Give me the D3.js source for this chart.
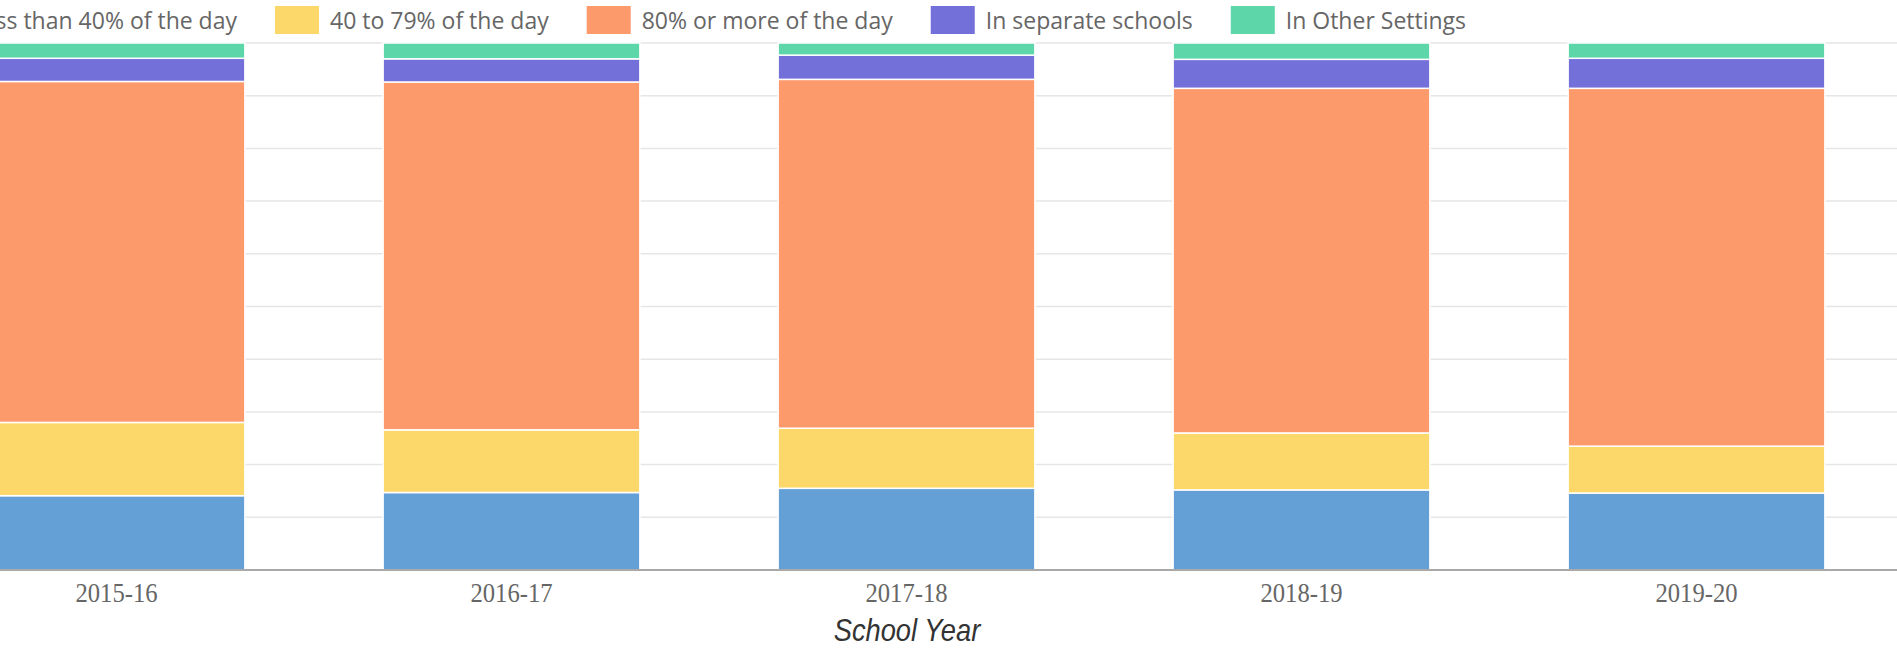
<!DOCTYPE HTML>
<html>
<head>
<meta charset="utf-8">
<script src="https://d3js.org/d3.v7.min.js"></script>
<style>
  body { margin: 0; background: #fff; overflow: hidden; }
</style>
</head>
<body onload="init()">

<svg id="svgMain" width="1897" height="650"></svg>

<script>
// school years on the x axis
var years = ["2015-16", "2016-17", "2017-18", "2018-19", "2019-20"];

// percent of students in each setting, bottom to top
var lessThan40 = [14.1, 14.7, 15.5, 15.2, 14.6];
var from40to79 = [13.9, 11.9, 11.4, 10.8, 8.9];
var over80 = [64.7, 66.0, 66.2, 65.4, 67.9];
var separateSchools = [4.4, 4.4, 4.6, 5.5, 5.7];
var otherSettings = [2.9, 3.0, 2.3, 3.1, 2.9];

var seriesNames = ["Less than 40% of the day", "40 to 79% of the day", "80% or more of the day", "In separate schools", "In Other Settings"];
var seriesColors = ["#649fd6", "#fcd86b", "#fd9a6c", "#7470da", "#5dd6a9"];
var yTicks = [0, 10, 20, 30, 40, 50, 60, 70, 80, 90, 100];

function init() {
   var svg = d3.select("#svgMain");
   var allSeries = [lessThan40, from40to79, over80, separateSchools, otherSettings];

   var rows = years.map(function (y, i) {
      var row = { year: y };
      seriesNames.forEach(function (n, k) { row[n] = allSeries[k][i]; });
      return row;
   });

   var xs = d3.scaleBand().domain(years).range([-81, 1894])
      .paddingInner(0.35).paddingOuter(0.175);
   var ys = d3.scaleLinear().domain([0, 100]).range([570, 43]);

   // gridlines
   svg.append("g").selectAll("line")
      .data(yTicks.slice(1))
      .enter().append("line")
      .attr("x1", 0).attr("x2", 1897)
      .attr("y1", function (d) { return ys(d); })
      .attr("y2", function (d) { return ys(d); })
      .attr("stroke", "#e6e6e6")
      .attr("stroke-width", 1.5);

   var stacked = d3.stack().keys(seriesNames)(rows);

   svg.append("g").selectAll("g")
      .data(stacked)
      .enter().append("g")
      .attr("fill", function (d, i) { return seriesColors[i]; })
      .selectAll("rect")
      .data(function (d) { return d; })
      .enter().append("rect")
      .attr("x", function (d) { return xs(d.data.year); })
      .attr("y", function (d) { return ys(d[1]); })
      .attr("width", xs.bandwidth())
      .attr("height", function (d) { return ys(d[0]) - ys(d[1]); })
      .attr("stroke", "#fff")
      .attr("stroke-width", 1.5);

   // x axis
   var xAxis = d3.axisBottom(xs).tickSize(0).tickPadding(0);
   var gx = svg.append("g")
      .attr("transform", "translate(0,570)")
      .call(xAxis);
   gx.select(".domain").remove();
   gx.append("line")
      .attr("x1", 0).attr("x2", 1897)
      .attr("stroke", "#a9a9a9")
      .attr("stroke-width", 2);
   gx.selectAll(".tick text")
      .attr("y", 0)
      .attr("dy", 0)
      .attr("transform", "translate(0,32) scale(0.88,1)")
      .attr("fill", "#666")
      .style("font-family", "'Liberation Serif', 'Times New Roman', serif")
      .style("font-size", "28px");

   svg.append("text")
      .attr("transform", "translate(907,641) scale(0.88,1)")
      .attr("text-anchor", "middle")
      .attr("fill", "#333")
      .style("font-family", "'Liberation Sans', Arial, sans-serif")
      .style("font-style", "italic")
      .style("font-size", "31px")
      .text("School Year");

   // legend, laid out left to right; second swatch lands at x=275
   var legend = svg.append("g");
   var items = legend.selectAll("g")
      .data(seriesNames)
      .enter().append("g");
   items.append("rect")
      .attr("y", 6)
      .attr("width", 44)
      .attr("height", 28)
      .attr("fill", function (d, i) { return seriesColors[i]; });
   items.append("text")
      .attr("x", 55)
      .attr("y", 29)
      .attr("fill", "#666")
      .style("font-family", "'Open Sans', 'Noto Sans', sans-serif")
      .style("font-size", "23px")
      .text(function (d) { return d; });

   var widths = [];
   items.selectAll("text").each(function () { widths.push(this.getComputedTextLength()); });
   var x = 275 - (55 + widths[0] + 38);
   items.each(function (d, i) {
      d3.select(this).attr("transform", "translate(" + x + ",0)");
      x += 55 + widths[i] + 38;
   });
}
</script>
</body>
</html>
